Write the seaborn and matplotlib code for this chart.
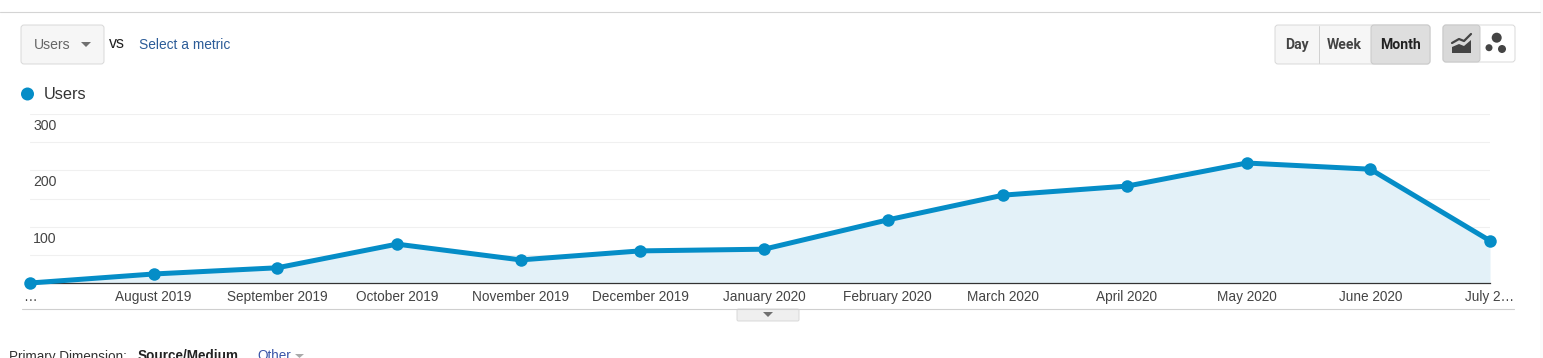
import matplotlib
matplotlib.use("Agg")
import matplotlib.pyplot as plt
import matplotlib.dates as mdates
from matplotlib.patches import FancyBboxPatch, Polygon, Circle, Rectangle
from matplotlib.transforms import ScaledTranslation
import pandas as pd
import seaborn as sns

months = ["2019-07-01", "2019-08-01", "2019-09-01", "2019-10-01", "2019-11-01", "2019-12-01", "2020-01-01",
          "2020-02-01", "2020-03-01", "2020-04-01", "2020-05-01", "2020-06-01", "2020-07-01"]
users = [0, 16, 27, 69, 41, 57, 60, 112, 156, 172, 213, 202, 75]
month_labels = ["…", "August 2019", "September 2019", "October 2019", "November 2019", "December 2019",
                "January 2020", "February 2020", "March 2020", "April 2020", "May 2020", "June 2020", "July 2…"]
grid_ticks = [50, 100, 150, 200, 250, 300]
grid_labels = ["", "100", "", "200", "", "300"]

W, H = 1543, 358
BLUE = "#058DC7"
sns.set_theme(style="white")
plt.rcParams["font.family"] = ["Liberation Sans", "DejaVu Sans"]

df = pd.DataFrame({"month": pd.to_datetime(months), "users": users})

fig = plt.figure(figsize=(W / 100, H / 100), dpi=100, facecolor="white")

# page furniture, drawn in pixel coordinates
bg = fig.add_axes([0, 0, 1, 1], zorder=0)
bg.set_xlim(0, W)
bg.set_ylim(H, 0)
bg.axis("off")


def box(x0, y0, x1, y1, face="#f6f6f6", edge="#d8d8d8"):
    bg.add_patch(FancyBboxPatch((x0, y0), x1 - x0, y1 - y0, boxstyle="round,pad=0,rounding_size=3",
                                fc=face, ec=edge, lw=0.7))


def label(x, y, s, size, color="#444444", **kw):
    kw.setdefault("va", "center")
    bg.text(x, y, s, fontsize=size * 0.72, color=color, **kw)


bg.add_patch(Rectangle((1540, 0), 3, H, fc="#fbfbfb", ec="none"))
bg.plot([0, 1540], [12, 12], color="#d4d4d4", lw=0.8)
bg.plot([22, 1514], [309, 309], color="#cfcfcf", lw=0.8)

# metric selector
box(21, 25, 104, 64)
label(34, 45, "Users", 14, "#666666")
bg.add_patch(Polygon([(81, 42), (91, 42), (86, 47)], fc="#707070", ec="none"))
label(109, 43, "vs", 16, "#222222")
label(139, 45, "Select a metric", 13.7, "#2C5C98")

# legend
bg.add_patch(Circle((27.5, 94), 6.5, fc=BLUE, ec="none"))
label(44, 94.5, "Users", 16.3, "#333333")

# day / week / month buttons
box(1275, 25, 1430, 64)
box(1371, 25, 1430, 64, face="#dedede", edge="#c8c8c8")
bg.plot([1318.5, 1318.5], [26, 63], color="#d0d0d0", lw=0.7)
for cx, s, c in [(1297, "Day", "#444444"), (1344.5, "Week", "#444444"), (1400.5, "Month", "#222222")]:
    bg.text(cx, 45, s, fontsize=14 * 0.72, color=c, family="Roboto", weight="bold", ha="center", va="center")

# chart type buttons
box(1443, 25, 1515, 62, face="white")
box(1443, 25, 1480, 62, face="#d9d9d9", edge="#c8c8c8")
bg.add_patch(Polygon([(1452, 53), (1452, 47), (1459, 44), (1464, 46), (1471, 40), (1471, 53)], fc="#444444", ec="none"))
bg.plot([1452, 1459, 1464, 1471], [43, 39, 41, 34], color="#444444", lw=1.6)
for cx, cy, r in [(1496.7, 37.7, 5), (1489, 47.7, 3.5), (1502, 49, 4)]:
    bg.add_patch(Circle((cx, cy), r, fc="#444444", ec="none"))

# collapse tab under the chart
bg.add_patch(FancyBboxPatch((737, 309), 62, 12, boxstyle="round,pad=0,rounding_size=1.5",
                            fc="#efefef", ec="#d8d8d8", lw=0.7))
bg.add_patch(Polygon([(763, 312), (773, 312), (768, 317)], fc="#707070", ec="none"))

# footer line, cut by the bottom edge as in the screenshot
label(9, 356.5, "Primary Dimension:", 13.5, "#333333")
label(138, 356.5, "Source/Medium", 13.5, "#222222", weight="bold")
label(257, 356.5, "Other", 13.5, "#3A55A8")
bg.add_patch(Polygon([(295, 354), (304, 354), (299.5, 358)], fc="#aaaaaa", ec="none"))

# the chart itself
ax = fig.add_axes([30 / W, 1 - 283 / H, 1460 / W, 169 / H], zorder=1)
ax.patch.set_alpha(0)
ax.grid(axis="y", color="#f0f0f0", lw=0.8, zorder=0)
ax.set_axisbelow(True)
ax.fill_between(df["month"], df["users"], 0, color="#e3f1f8", lw=0, zorder=2)
sns.lineplot(data=df, x="month", y="users", ax=ax, color=BLUE, linewidth=3.6, marker="o", markersize=9,
             markeredgewidth=0, clip_on=False, errorbar=None, zorder=5)

ax.set_xlim(df["month"].iloc[0], df["month"].iloc[-1])
ax.set_ylim(0, 300)
ax.set_xlabel("")
ax.set_ylabel("")
ax.set_xticks(mdates.date2num(df["month"]))
ax.set_xticklabels(month_labels)
ax.set_yticks(grid_ticks)
ax.set_yticklabels(grid_labels)
ax.tick_params(axis="x", length=0, pad=5, labelsize=9.8, labelcolor="#444444")
ax.tick_params(axis="y", length=0, pad=-2.4, labelsize=10.2, labelcolor="#444444")
for t in ax.get_yticklabels():
    t.set_ha("left")
    t.set_va("top")
    t.set_transform(t.get_transform() + ScaledTranslation(0, -5 / 100, fig.dpi_scale_trans))
for name in ["top", "left", "right"]:
    ax.spines[name].set_visible(False)
ax.spines["bottom"].set_color("#333333")
ax.spines["bottom"].set_linewidth(0.9)

fig.savefig("out.png", dpi=100)
